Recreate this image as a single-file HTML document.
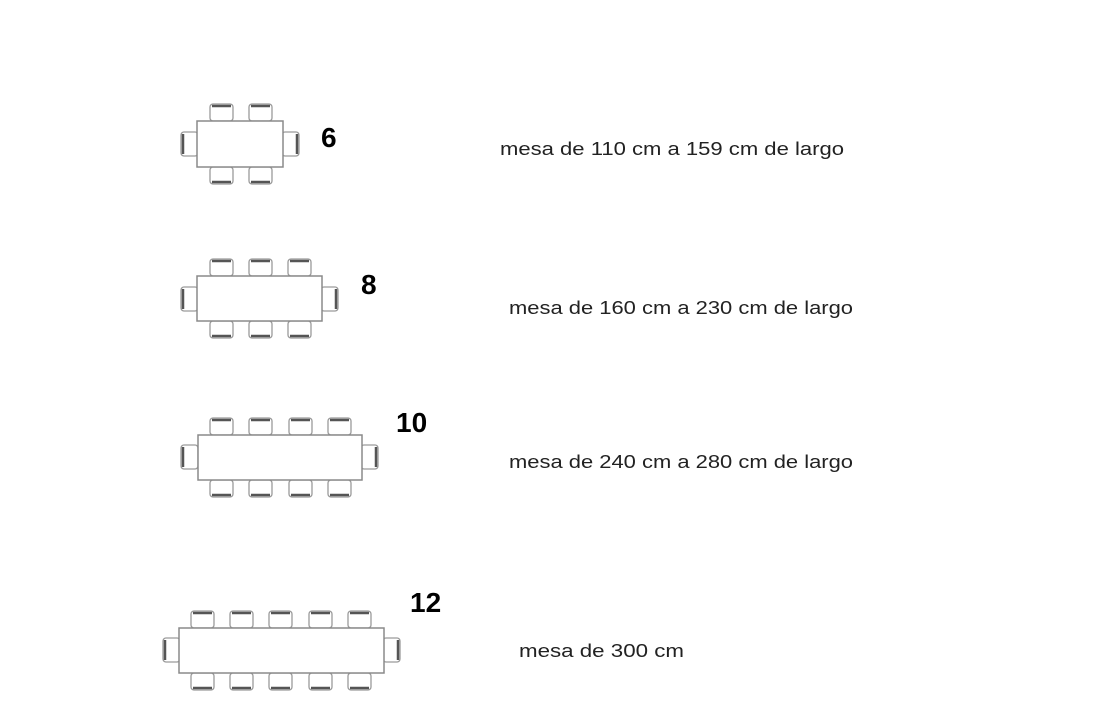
<!DOCTYPE html>
<html><head><meta charset="utf-8"><style>
body{margin:0;background:#fff}
svg{display:block}
.t{fill:#fff;stroke:#8a8a8a;stroke-width:1.5}
.c{fill:#fff;stroke:#9a9a9a;stroke-width:1.3}
.b{stroke:#555;stroke-width:2.5}
.n{font-family:"Liberation Sans",sans-serif;font-weight:bold;font-size:28px;fill:#000}
.l{font-family:"Liberation Sans",sans-serif;font-size:18px;fill:#222}
</style></head><body>
<svg width="1109" height="720" viewBox="0 0 1109 720" xmlns="http://www.w3.org/2000/svg">
<defs>
<g id="ct"><rect class="c" x="0" y="0" width="23" height="17" rx="3"/><line class="b" x1="2" y1="2" x2="21" y2="2"/></g>
<g id="cb"><rect class="c" x="0" y="0" width="23" height="17" rx="3"/><line class="b" x1="2" y1="15" x2="21" y2="15"/></g>
<g id="cl"><rect class="c" x="0" y="0" width="17" height="24" rx="3"/><line class="b" x1="2" y1="2" x2="2" y2="22"/></g>
<g id="cr"><rect class="c" x="0" y="0" width="17" height="24" rx="3"/><line class="b" x1="15" y1="2" x2="15" y2="22"/></g>
</defs>
<use href="#ct" x="210" y="104"/><use href="#ct" x="249" y="104"/>
<use href="#cb" x="210" y="167"/><use href="#cb" x="249" y="167"/>
<use href="#cl" x="181" y="132"/><use href="#cr" x="282" y="132"/>
<rect class="t" x="197" y="121" width="86" height="46"/>
<text class="n" x="321" y="147">6</text>
<text class="l" x="500" y="155" textLength="344" lengthAdjust="spacingAndGlyphs">mesa de 110 cm a 159 cm de largo</text>
<use href="#ct" x="210" y="259"/><use href="#ct" x="249" y="259"/><use href="#ct" x="288" y="259"/>
<use href="#cb" x="210" y="321"/><use href="#cb" x="249" y="321"/><use href="#cb" x="288" y="321"/>
<use href="#cl" x="181" y="287"/><use href="#cr" x="321" y="287"/>
<rect class="t" x="197" y="276" width="125" height="45"/>
<text class="n" x="361" y="294">8</text>
<text class="l" x="509" y="314" textLength="344" lengthAdjust="spacingAndGlyphs">mesa de 160 cm a 230 cm de largo</text>
<use href="#ct" x="210" y="418"/><use href="#ct" x="249" y="418"/><use href="#ct" x="289" y="418"/><use href="#ct" x="328" y="418"/>
<use href="#cb" x="210" y="480"/><use href="#cb" x="249" y="480"/><use href="#cb" x="289" y="480"/><use href="#cb" x="328" y="480"/>
<use href="#cl" x="181" y="445"/><use href="#cr" x="361" y="445"/>
<rect class="t" x="198" y="435" width="164" height="45"/>
<text class="n" x="396" y="432">10</text>
<text class="l" x="509" y="468" textLength="344" lengthAdjust="spacingAndGlyphs">mesa de 240 cm a 280 cm de largo</text>
<use href="#ct" x="191" y="611"/><use href="#ct" x="230" y="611"/><use href="#ct" x="269" y="611"/><use href="#ct" x="309" y="611"/><use href="#ct" x="348" y="611"/>
<use href="#cb" x="191" y="673"/><use href="#cb" x="230" y="673"/><use href="#cb" x="269" y="673"/><use href="#cb" x="309" y="673"/><use href="#cb" x="348" y="673"/>
<use href="#cl" x="163" y="638"/><use href="#cr" x="383" y="638"/>
<rect class="t" x="179" y="628" width="205" height="45"/>
<text class="n" x="410" y="612">12</text>
<text class="l" x="519" y="657" textLength="165" lengthAdjust="spacingAndGlyphs">mesa de 300 cm</text>
</svg>
</body></html>
